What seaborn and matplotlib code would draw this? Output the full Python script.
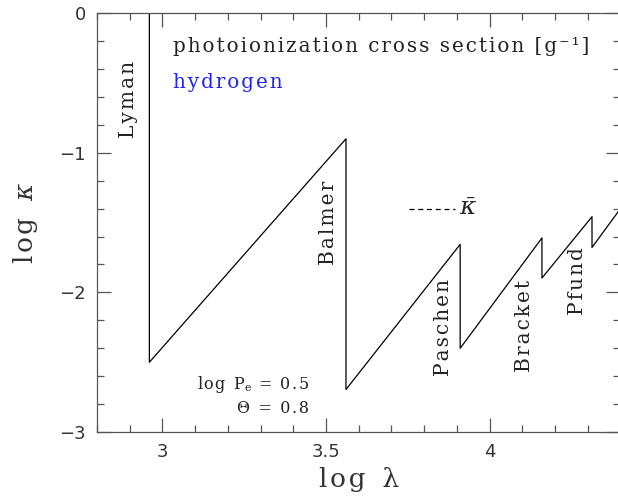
import matplotlib
matplotlib.use("Agg")
import matplotlib.pyplot as plt
import seaborn as sns
import pandas as pd
from matplotlib.ticker import MultipleLocator

# vertices of the opacity sawtooth (log lambda, log kappa)
log_lam = [2.96, 2.96, 3.561, 3.561, 3.910, 3.910, 4.160, 4.160, 4.313, 4.313, 4.40]
log_kap = [0.3, -2.50, -0.90, -2.695, -1.656, -2.40, -1.61, -1.897, -1.458, -1.678, -1.40]

series_names = ["Lyman", "Balmer", "Paschen", "Bracket", "Pfund"]
label_x = [2.897, 3.508, 3.858, 4.106, 4.268]
label_y = [-0.62, -1.50, -2.25, -2.24, -1.92]

sns.set_style("ticks")
plt.rcParams['font.family'] = ['DejaVu Serif']
plt.rcParams['mathtext.fontset'] = 'dejavuserif'

HS = "\u200a"
def sp(s, n=1):
    return (HS * n).join(s)

fig = plt.figure(figsize=(6.18, 5.03), dpi=100)
ax = fig.add_axes([0.157, 0.141, 0.847, 0.833])

df = pd.DataFrame({"x": log_lam, "y": log_kap, "o": range(len(log_lam))})
sns.lineplot(data=df, x="x", y="y", sort=False, estimator=None, color="black",
             linewidth=0.9, ax=ax)

ax.set_xlim(2.8, 4.4)
ax.set_ylim(-3, 0)
ax.xaxis.set_minor_locator(MultipleLocator(0.1))
ax.yaxis.set_minor_locator(MultipleLocator(0.2))
ax.set_xticks([3, 3.5, 4])
ax.set_xticklabels(["3", "3.5", "4"])
ax.set_yticks([0, -1, -2, -3])
ax.set_yticklabels(["0", "\u22121", "\u22122", "\u22123"])
ax.tick_params(which="both", direction="in", top=True, right=True, color="#555555")
ax.tick_params(which="major", length=10, width=0.9, labelsize=13, pad=8)
ax.tick_params(which="minor", length=5, width=0.9)
for lab in ax.get_xticklabels() + ax.get_yticklabels():
    lab.set_family("DejaVu Sans")
    lab.set_color("#333333")
for s in ax.spines.values():
    s.set_color("#555555")
    s.set_linewidth(0.9)

ax.set_xlabel(sp("log") + "  \u03bb", fontsize=19, labelpad=4, color="#333333")
ax.set_ylabel(sp("log") + "  $\\kappa$", fontsize=19, labelpad=14, color="#333333")

for name, lx, ly in zip(series_names, label_x, label_y):
    ax.text(lx, ly, sp(name, 1), rotation=90, ha="center", va="center", fontsize=14.5, color="#222222")

ax.text(3.033, -0.24, sp("photoionization cross section [g\u207b\u00b9]", 1), fontsize=14.3,
        ha="left", va="center", color="#222222")
ax.text(3.033, -0.50, sp("hydrogen", 1), fontsize=14.3, ha="left", va="center", color="#2222ee")

ax.plot([3.755, 3.895], [-1.40, -1.40], linestyle=(0, (4, 3)), color="black", linewidth=0.9)
ax.text(3.905, -1.40, "$\\bar{\\kappa}$", fontsize=18, ha="left", va="center")

ax.text(3.448, -2.66, sp("log P", 1) + "$_\\mathrm{e}$" + sp(" = 0.5", 1), fontsize=11.5,
        ha="right", va="center", color="#222222")
ax.text(3.448, -2.83, sp("\u0398 = 0.8", 1), fontsize=11.5, ha="right", va="center", color="#222222")

fig.savefig("out.png", dpi=100)
